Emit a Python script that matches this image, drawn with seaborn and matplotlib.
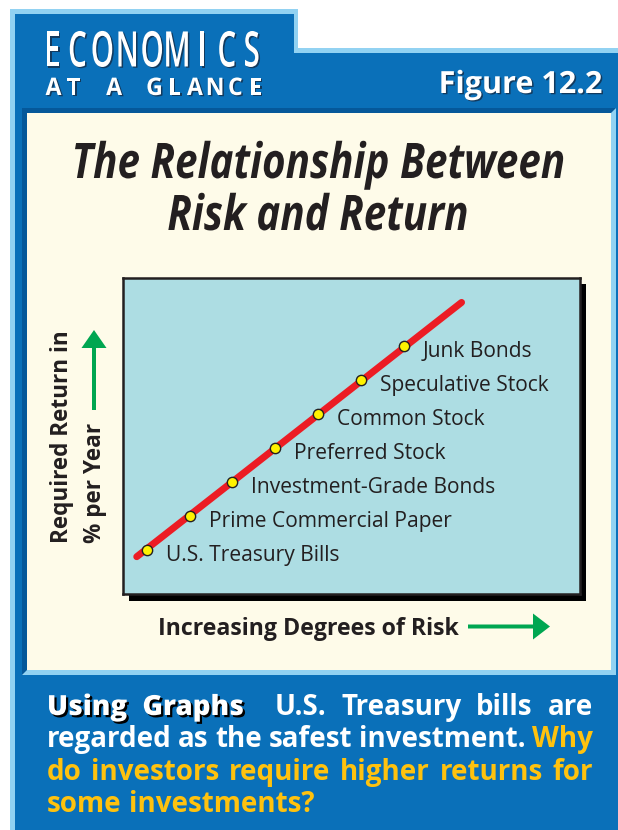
import matplotlib
matplotlib.use("Agg")
import matplotlib.pyplot as plt
from matplotlib import patches, patheffects, font_manager, colors
from matplotlib.transforms import Affine2D
import seaborn as sns

# data (conceptual chart, unitless)
investments = ["U.S. Treasury Bills", "Prime Commercial Paper", "Investment-Grade Bonds",
               "Preferred Stock", "Common Stock", "Speculative Stock", "Junk Bonds"]
risk_level = [1, 2, 3, 4, 5, 6, 7]
required_return = [1, 2, 3, 4, 5, 6, 7]
line_risk = [0.77, 8.34]
line_return = [0.80, 8.30]

title_lines = ["The Relationship Between", "Risk and Return"]
x_label = "Increasing Degrees of Risk"
y_label_lines = ["Required Return in", "% per Year"]
caption_lines = [
    [("Using", "lead"), ("Graphs", "lead"), ("U.S.", "body"), ("Treasury", "body"),
     ("bills", "body"), ("are", "body")],
    [("regarded", "body"), ("as", "body"), ("the", "body"), ("safest", "body"),
     ("investment.", "body"), ("Why", "ask")],
    [("do", "ask"), ("investors", "ask"), ("require", "ask"), ("higher", "ask"),
     ("returns", "ask"), ("for", "ask")],
    [("some", "ask"), ("investments?", "ask")],
]

BLUE = "#0a70b9"
DARK_BLUE = "#05589a"
LIGHT_BLUE = "#92d2f2"
CREAM = "#fefbe9"
TEAL = "#addde3"
RED = "#ec1c24"
YELLOW = "#fff200"
GREEN = "#00a651"
GOLD = "#ffc20e"
INK = "#231f20"


def has_font(name):
    try:
        font_manager.findfont(font_manager.FontProperties(family=name),
                              fallback_to_default=False)
        return True
    except ValueError:
        return False


class Squeeze(patheffects.AbstractPathEffect):
    """draw text glyphs scaled about their centre / baseline (fake condensed type)"""

    def __init__(self, sx=1.0, sy=1.0, offset=(0, 0), color=None):
        super().__init__(offset)
        self.sx, self.sy, self.color = sx, sy, color

    def draw_path(self, renderer, gc, tpath, affine, rgbFace=None):
        ext = tpath.get_extents(affine)
        cx = (ext.x0 + ext.x1) / 2
        by = affine.transform((0, 0))[1]
        aff = (affine + Affine2D().translate(-cx, -by).scale(self.sx, self.sy).translate(cx, by)
               + self._offset_transform(renderer))
        gc0 = renderer.new_gc()
        gc0.copy_properties(gc)
        if self.color is not None:
            gc0.set_foreground(self.color)
            rgbFace = colors.to_rgba(self.color)
        renderer.draw_path(gc0, tpath, aff, rgbFace)
        gc0.restore()


sns.set_style("white")
SANS = "Open Sans" if has_font("Open Sans") else "DejaVu Sans"
plt.rcParams["font.family"] = [SANS, "DejaVu Sans"]

fig = plt.figure(figsize=(6.18, 8.30), dpi=100)
fig.patch.set_facecolor("white")
renderer = fig.canvas.get_renderer()

# background axes in pixel units
bg = fig.add_axes([0, 0, 1, 1], zorder=0)
bg.set_xlim(0, 618)
bg.set_ylim(830, 0)
bg.axis("off")

bg.add_patch(patches.Polygon([(10, 9), (298, 9), (298, 48), (618, 48), (618, 830), (10, 830)],
                             closed=True, color=LIGHT_BLUE, lw=0))
bg.add_patch(patches.Polygon([(15, 14), (294, 14), (294, 53), (618, 53), (618, 830), (15, 830)],
                             closed=True, color=BLUE, lw=0))
bg.add_patch(patches.Rectangle((22, 108), 594, 567, color=LIGHT_BLUE, lw=0))
bg.add_patch(patches.Polygon([(22, 108), (616, 108), (611, 113), (27, 113), (27, 670), (22, 675)],
                             closed=True, color=DARK_BLUE, lw=0))
bg.add_patch(patches.Rectangle((27, 113), 584, 557, color=CREAM, lw=0))
# chart shadow
bg.add_patch(patches.Rectangle((129, 284), 457, 317, color="black", lw=0))


def px_width(t, vertical=False):
    bb = t.get_window_extent(renderer)
    return bb.height if vertical else bb.width


def fit(t, target, vertical=False):
    t.set_fontsize(t.get_fontsize() * target / px_width(t, vertical))


# header
for i, ch in enumerate("ECONOMICS"):
    sq = dict(sx=1.12, sy=1.86)
    bg.text(52.5 + i * 24.9, 66.5, ch, color="white", fontsize=19, fontweight="semibold",
            ha="center", va="baseline",
            path_effects=[Squeeze(offset=(1.1, -0.9), color="#123a5e", **sq), Squeeze(**sq)])
for i, ch in enumerate("AT A GLANCE"):
    if ch != " ":
        sq = dict(sx=1.0, sy=1.05)
        bg.text(53.5 + i * 20.2, 95, ch, color="white", fontsize=16.6, fontweight="bold",
                ha="center", va="baseline",
                path_effects=[Squeeze(offset=(1.1, -0.9), color="#123a5e", **sq), Squeeze(**sq)])
fig_t = bg.text(602, 93, "Figure 12.2", color="white", fontsize=24, fontweight="bold",
                ha="right", va="baseline",
                path_effects=[patheffects.SimplePatchShadow(offset=(1.1, -0.9),
                                                            shadow_rgbFace="#123a5e", alpha=1),
                              patheffects.Normal()])
fit(fig_t, 164)

# title (Open Sans bold italic squeezed to a condensed look)
t_size = 35.3
t1 = bg.text(318, 178, title_lines[0], color=INK, fontsize=t_size, fontweight="bold",
             fontstyle="italic", ha="center", va="baseline")
t_sx = 493 / px_width(t1)
t1.set_path_effects([Squeeze(sx=t_sx)])
bg.text(318, 230, title_lines[1], color=INK, fontsize=t_size, fontweight="bold",
        fontstyle="italic", ha="center", va="baseline", path_effects=[Squeeze(sx=t_sx)])

# chart
ax = fig.add_axes([123 / 618, 1 - 594 / 830, 457 / 618, 316 / 830], zorder=2)
ax.set_facecolor(TEAL)
sns.lineplot(x=line_risk, y=line_return, ax=ax, color=RED, linewidth=5, zorder=2)
sns.scatterplot(x=risk_level, y=required_return, ax=ax, s=55, color=YELLOW,
                edgecolor=INK, linewidth=1, zorder=3)
ax.set_xlim(0.45, 11.1)
ax.set_ylim(-0.3, 9.02)
ax.set_xticks([])
ax.set_yticks([])
ax.set_xlabel("")
ax.set_ylabel("")
for s in ax.spines.values():
    s.set_visible(True)
    s.set_linewidth(1.8)
    s.set_color(INK)

probe = ax.text(0, 0, investments[5], fontsize=14)
fit(probe, 170)
lab_size = probe.get_fontsize()
probe.remove()
for name, xr, yr in zip(investments, risk_level, required_return):
    ax.annotate(name, (xr, yr), xytext=(19, -11), textcoords="offset pixels",
                fontsize=lab_size, color=INK, ha="left", va="baseline")

# axis labels and arrows
xl = bg.text(158, 635, x_label, color=INK, fontweight="bold", fontsize=15,
             ha="left", va="baseline")
fit(xl, 302)
bg.add_patch(patches.FancyArrow(468, 626.5, 82, 0, width=4, head_width=26, head_length=17,
                                length_includes_head=True, color=GREEN, lw=0))
yl1 = bg.text(62, 543, y_label_lines[0], color=INK, fontweight="bold", fontsize=15,
              rotation=90, ha="center", va="bottom")
fit(yl1, 213, vertical=True)
bg.text(95, 543, y_label_lines[1], color=INK, fontweight="bold",
        fontsize=yl1.get_fontsize(), rotation=90, ha="center", va="bottom")
bg.add_patch(patches.FancyArrow(94, 410, 0, -80, width=4, head_width=25, head_length=18,
                                length_includes_head=True, color=GREEN, lw=0))

# caption with justified lines
styles = {
    "lead": dict(color="white", fontweight="extra bold",
                 path_effects=[patheffects.SimplePatchShadow(offset=(1.6, -1.6),
                                                             shadow_rgbFace="black", alpha=1),
                               patheffects.Normal()]),
    "body": dict(color="white", fontweight="bold"),
    "ask": dict(color=GOLD, fontweight="bold"),
}
probe = bg.text(0, 0, "some investments?", fontsize=18, fontweight="bold")
fit(probe, 268)
cap_size = probe.get_fontsize()
probe.remove()

x0, x1 = 47, 593
for k, words in enumerate(caption_lines):
    y = 715 + k * 32.3
    objs = [bg.text(0, y, w, fontsize=cap_size, va="baseline", ha="left", **styles[st])
            for w, st in words]
    widths = [px_width(t) for t in objs]
    weights = [2 if (a[1] == "lead" and b[1] != "lead") else 1
               for a, b in zip(words[:-1], words[1:])]
    if k < len(caption_lines) - 1:
        unit = (x1 - x0 - sum(widths)) / sum(weights)
    else:
        unit = cap_size * 100 / 72 * 0.27
    x = x0
    for i, (t, wd) in enumerate(zip(objs, widths)):
        t.set_x(x)
        x += wd + (unit * weights[i] if i < len(weights) else 0)

fig.savefig("out.png", dpi=100)
